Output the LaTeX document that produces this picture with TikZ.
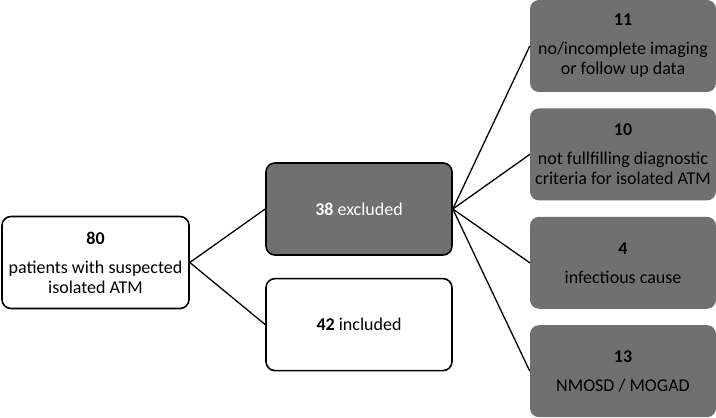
\documentclass[tikz,border=0pt]{standalone}
\usepackage{fontspec}
\setmainfont{Carlito}
\usepackage{xcolor}
\usetikzlibrary{positioning}
\definecolor{boxgray}{RGB}{112,112,112}
\tikzstyle{link} = [line width=1.3pt]

\begin{document}
\begin{tikzpicture}[x=1pt, y=1pt, node distance=16pt, font=\fontsize{18}{20}\selectfont]
    \tikzstyle{whitebox} = [rectangle, rounded corners=9pt, draw, line width=1.6pt, fill=white, minimum width=186pt, minimum height=92pt, align=center]
    \tikzstyle{darkbox} = [whitebox, fill=boxgray, text=white]
    \tikzstyle{reason} = [rectangle, rounded corners=9pt, fill=boxgray, minimum width=186pt, minimum height=92pt, align=center]

    \useasboundingbox (0,0) rectangle (716,418);

    \node[whitebox, minimum width=187pt] (total) at (95.5,155.5) {\textbf{80}\\[9pt]patients with suspected\\isolated ATM};
    \node[darkbox] (excl) at (359,209) {\textbf{38} excluded};
    \node[whitebox, below=22pt of excl] (incl) {\textbf{42} included};

    \node[reason] (r1) at (623,372) {\textbf{11}\\[9pt]no/incomplete imaging\\or follow up data};
    \node[reason, below=of r1] (r2) {\textbf{10}\\[9pt]not fullfilling diagnostic\\criteria for isolated ATM};
    \node[reason, below=of r2] (r3) {\textbf{4}\\[9pt]infectious cause};
    \node[reason, below=of r3] (r4) {\textbf{13}\\[9pt]NMOSD / MOGAD};

    \draw[link] (total.east) -- (excl.west);
    \draw[link] (total.east) -- (incl.west);
    \draw[link] (excl.east) -- (r1.west);
    \draw[link] (excl.east) -- (r2.west);
    \draw[link] (excl.east) -- (r3.west);
    \draw[link] (excl.east) -- (r4.west);
\end{tikzpicture}
\end{document}
